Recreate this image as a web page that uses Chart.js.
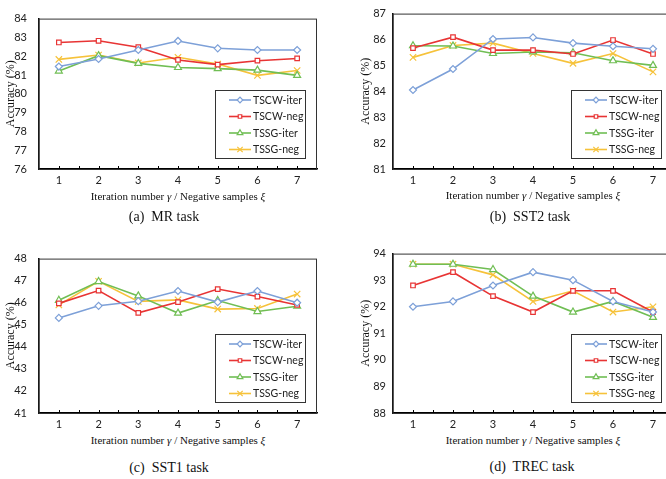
<!DOCTYPE html>
<html>
<head>
<meta charset="utf-8">
<script src="https://cdn.jsdelivr.net/npm/chart.js@4.4.1/dist/chart.umd.min.js"></script>
<style>
  body { margin: 0; background: #fff; width: 666px; height: 479px; overflow: hidden; position: relative; }
  canvas { position: absolute; }
  .xt, .cap { position: absolute; width: 260px; text-align: center; font-family: "Liberation Serif", serif; color: #111; white-space: nowrap; }
  .xt { font-size: 11px; line-height: 14px; }
  .cap { font-size: 14px; line-height: 16px; }
</style>
</head>
<body>
<canvas id="mr" width="333" height="190" style="left:0;top:0"></canvas>
<canvas id="sst2" width="353" height="190" style="left:333px;top:0"></canvas>
<canvas id="sst1" width="333" height="193" style="left:0;top:240px"></canvas>
<canvas id="trec" width="353" height="193" style="left:333px;top:240px"></canvas>

<div class="xt" style="left:48px;top:189px">Iteration number <i>γ</i> / Negative samples <i>ξ</i></div>
<div class="xt" style="left:403px;top:188px">Iteration number <i>γ</i> / Negative samples <i>ξ</i></div>
<div class="xt" style="left:48px;top:433px">Iteration number <i>γ</i> / Negative samples <i>ξ</i></div>
<div class="xt" style="left:403px;top:433px">Iteration number <i>γ</i> / Negative samples <i>ξ</i></div>

<div class="cap" style="left:34px;top:209px">(a)&nbsp; MR task</div>
<div class="cap" style="left:400px;top:209px">(b)&nbsp; SST2 task</div>
<div class="cap" style="left:39px;top:460px">(c)&nbsp; SST1 task</div>
<div class="cap" style="left:402px;top:459px">(d)&nbsp; TREC task</div>

<script>
// x values: iteration number / negative samples
const steps = [1, 2, 3, 4, 5, 6, 7];
const seriesNames = ['TSCW-iter', 'TSCW-neg', 'TSSG-iter', 'TSSG-neg'];

// MR
const mrTscwIter = [81.45, 81.85, 82.33, 82.81, 82.42, 82.33, 82.33];
const mrTscwNeg  = [82.73, 82.82, 82.48, 81.80, 81.55, 81.76, 81.88];
const mrTssgIter = [81.21, 82.03, 81.62, 81.40, 81.34, 81.26, 80.98];
const mrTssgNeg  = [81.83, 82.06, 81.64, 81.94, 81.58, 80.98, 81.24];

// SST2
const sst2TscwIter = [84.05, 84.86, 86.02, 86.08, 85.86, 85.74, 85.64];
const sst2TscwNeg  = [85.67, 86.09, 85.59, 85.59, 85.44, 85.98, 85.44];
const sst2TssgIter = [85.76, 85.75, 85.46, 85.52, 85.49, 85.18, 85.00];
const sst2TssgNeg  = [85.31, 85.77, 85.86, 85.46, 85.08, 85.46, 84.75];

// SST1
const sst1TscwIter = [45.31, 45.86, 46.07, 46.53, 46.03, 46.53, 46.00];
const sst1TscwNeg  = [45.97, 46.55, 45.54, 46.03, 46.62, 46.28, 45.90];
const sst1TssgIter = [46.11, 46.96, 46.31, 45.53, 46.10, 45.60, 45.84];
const sst1TssgNeg  = [45.90, 46.97, 46.06, 46.13, 45.71, 45.74, 46.39];

// TREC
const trecTscwIter = [92.0, 92.2, 92.8, 93.3, 93.0, 92.2, 91.8];
const trecTscwNeg  = [92.8, 93.3, 92.4, 91.8, 92.6, 92.6, 91.8];
const trecTssgIter = [93.6, 93.6, 93.4, 92.4, 91.8, 92.2, 91.6];
const trecTssgNeg  = [93.6, 93.6, 93.2, 92.2, 92.6, 91.8, 92.0];

const styles = [
  { color: 'rgb(125,160,216)', point: 'rectRot', radius: 3.5 },
  { color: 'rgb(232,52,52)',   point: 'rect',    radius: 3.2 },
  { color: 'rgb(112,190,84)',  point: 'triangle', radius: 4 },
  { color: 'rgb(246,194,58)',  point: 'crossRot', radius: 4.5 }
];

// legend box inside the plot, lower right corner
const boxLegend = {
  id: 'boxLegend',
  afterDraw(chart) {
    const ctx = chart.ctx, a = chart.chartArea;
    const w = 90, h = 68;
    const x = a.right - 12 - w, y = a.bottom - 11 - h;
    ctx.save();
    ctx.fillStyle = '#fff';
    ctx.fillRect(x, y, w, h);
    ctx.strokeStyle = '#333';
    ctx.lineWidth = 1;
    ctx.strokeRect(x + 0.5, y + 0.5, w, h);
    chart.data.datasets.forEach((ds, i) => {
      const ry = y + 10 + i * 16.5;
      ctx.strokeStyle = ds.borderColor;
      ctx.lineWidth = 1.6;
      ctx.beginPath();
      ctx.moveTo(x + 14, ry);
      ctx.lineTo(x + 36, ry);
      ctx.stroke();
      ctx.fillStyle = '#fff';
      ctx.lineWidth = 1.2;
      Chart.helpers.drawPoint(ctx, { pointStyle: ds.pointStyle, radius: ds.pointRadius - 0.7, rotation: 0, borderWidth: 1.2 }, x + 25, ry);
      ctx.fillStyle = '#222';
      ctx.font = '10.5px Lato, "Open Sans", sans-serif';
      ctx.textBaseline = 'middle';
      ctx.fillText(ds.label, x + 38, ry + 0.5);
    });
    ctx.restore();
  }
};

// thin frame around the plot area plus small inward ticks on the x axis
const frame = {
  id: 'frame',
  beforeDatasetsDraw(chart) {
    const ctx = chart.ctx, a = chart.chartArea, xs = chart.scales.x;
    ctx.save();
    ctx.strokeStyle = '#333';
    ctx.lineWidth = 1;
    ctx.strokeRect(a.left, a.top + 0.5, a.right - a.left - 0.5, a.bottom - a.top);
    ctx.strokeStyle = '#000';
    for (let v = xs.min + 0.5; v < xs.max; v += 0.5) {
      const px = Math.round(xs.getPixelForValue(v)) + 0.5;
      ctx.beginPath();
      ctx.moveTo(px, a.bottom);
      ctx.lineTo(px, a.bottom - 3);
      ctx.stroke();
    }
    ctx.restore();
  }
};

function makeChart(id, series, yMin, yMax, p) {
  const datasets = series.map((vals, i) => ({
    label: seriesNames[i],
    data: steps.map((s, k) => ({ x: s, y: vals[k] })),
    borderColor: styles[i].color,
    backgroundColor: '#fff',
    borderWidth: 1.6,
    pointStyle: styles[i].point,
    pointRadius: styles[i].radius,
    pointBorderWidth: 1.2,
    pointBackgroundColor: '#fff',
    tension: 0
  }));
  new Chart(document.getElementById(id), {
    type: 'line',
    data: { datasets: datasets },
    options: {
      responsive: false,
      animation: false,
      events: [],
      layout: { padding: { top: p.top, right: p.right, left: 0, bottom: 0 } },
      plugins: { legend: { display: false }, tooltip: { enabled: false } },
      scales: {
        x: {
          type: 'linear', min: 0.5, max: 7.5,
          ticks: {
            stepSize: 0.5, autoSkip: false, maxRotation: 0, padding: 5,
            color: '#222', font: { family: 'Lato, "Open Sans", sans-serif', size: 11 },
            callback: v => Number.isInteger(v) && v >= 1 ? v : ''
          },
          grid: { drawOnChartArea: false, drawTicks: false },
          border: { color: '#000', width: 1.5 },
          afterFit: s => { s.height = p.xh; }
        },
        y: {
          min: yMin, max: yMax,
          ticks: {
            stepSize: 1, padding: p.tickPad,
            color: '#222', font: { family: 'Lato, "Open Sans", sans-serif', size: 11 }
          },
          grid: { drawOnChartArea: false, drawTicks: false },
          border: { color: '#000', width: 1.5 },
          title: {
            display: true, text: 'Accuracy (%)', color: '#111',
            font: { family: '"Liberation Serif", serif', size: 12 },
            padding: { top: p.titlePad, bottom: 0 }
          },
          afterFit: s => { s.width = p.yw; }
        }
      }
    },
    plugins: [frame, boxLegend]
  });
}

const leftPanel  = { top: 6, right: 16, xh: 21, yw: 39, tickPad: 12, titlePad: 4 };
const rightPanel = { top: 6, right: 13, xh: 21, yw: 60, tickPad: 7, titlePad: 26 };

makeChart('mr',   [mrTscwIter, mrTscwNeg, mrTssgIter, mrTssgNeg], 76, 84, leftPanel);
makeChart('sst2', [sst2TscwIter, sst2TscwNeg, sst2TssgIter, sst2TssgNeg], 81, 87, rightPanel);
makeChart('sst1', [sst1TscwIter, sst1TscwNeg, sst1TssgIter, sst1TssgNeg], 41, 48,
  Object.assign({}, leftPanel, { top: 10, xh: 20 }));
makeChart('trec', [trecTscwIter, trecTscwNeg, trecTssgIter, trecTssgNeg], 88, 94,
  Object.assign({}, rightPanel, { top: 10, xh: 20 }));
</script>
</body>
</html>
